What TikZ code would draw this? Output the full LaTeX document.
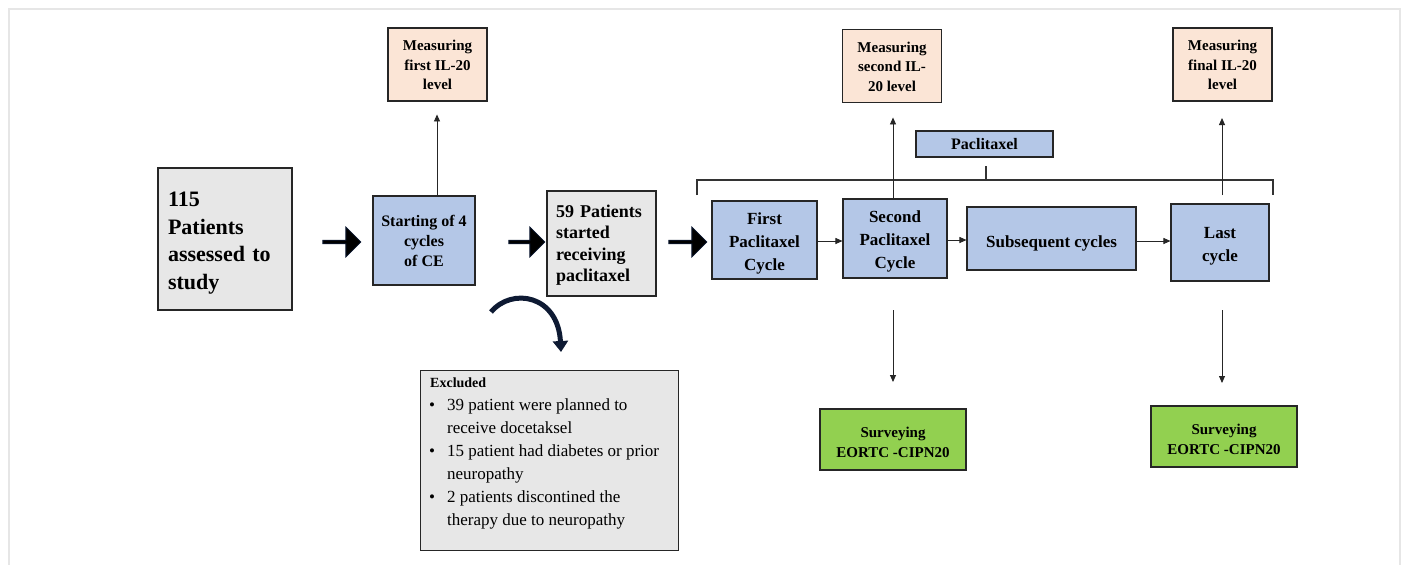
\documentclass[tikz,border=0pt]{standalone}
\usepackage{fontspec}
\setmainfont{Liberation Serif}
\usetikzlibrary{shapes.arrows,arrows.meta}
\definecolor{peach}{HTML}{FBE5D6}
\definecolor{bluebox}{HTML}{B4C7E7}
\definecolor{graybox}{HTML}{E7E7E7}
\definecolor{greenbox}{HTML}{92D050}
\definecolor{frame}{HTML}{E6E6E6}
\definecolor{navy}{HTML}{0E1A33}
\newcommand{\lowr}[1]{\rule{0pt}{#1}}
\tikzset{
  box/.style={draw=black!85, line width=1.1pt, align=center, inner sep=2pt, font=\bfseries},
  measbox/.style={box, fill=peach, minimum width=99pt, minimum height=73pt, font=\bfseries\fontsize{15}{19.5}\selectfont},
  cyclebox/.style={box, fill=bluebox, font=\bfseries\fontsize{17}{23}\selectfont},
  graynode/.style={box, fill=graybox},
  greennode/.style={box, fill=greenbox, minimum width=146pt, minimum height=61pt, font=\bfseries\fontsize{15}{20}\selectfont},
  blockarrow/.style={single arrow, fill=black, draw=navy, line width=0.8pt, minimum height=38pt, minimum width=30pt, single arrow head extend=3pt, inner sep=0pt},
  thinarrow/.style={-{Triangle[length=7pt,width=6pt]}, line width=0.9pt, draw=black!85},
}
\begin{document}
\begin{tikzpicture}[x=1pt,y=-1pt]
\useasboundingbox (0,0) rectangle (1410,565);
\fill[white] (0,0) rectangle (1410,565);
% outer frame
\draw[frame, line width=2pt] (9,565) -- (9,9) -- (1400,9) -- (1400,565);

% measuring boxes
\node[measbox] (m1) at (437.5,64.5) {\lowr{12pt}Measuring\\first IL-20\\level};
\node[measbox] (m2) at (892,66) {\lowr{12pt}Measuring\\second IL-\\20 level};
\node[measbox] (m3) at (1222.5,64.5) {\lowr{12pt}Measuring\\final IL-20\\level};

% main row
\node[graynode, minimum width=134pt, minimum height=142pt, align=left, text width=114pt, font=\bfseries\fontsize{22}{27.5}\selectfont] (p115) at (225,239) {\lowr{23pt}115\\Patients\\assessed to\\study};
\node[box, fill=bluebox, minimum width=102pt, minimum height=89pt, font=\bfseries\fontsize{16}{20}\selectfont] (ce) at (424,240.5) {\lowr{13pt}Starting of 4\\cycles\\of CE};
\node[graynode, minimum width=109pt, minimum height=105pt, align=left, text width=91pt, font=\bfseries\fontsize{18}{21.5}\selectfont] (p59) at (601.5,243.5) {\lowr{16pt}59 Patients\\started\\receiving\\paclitaxel};
\node[cyclebox, minimum width=105pt, minimum height=78pt] (c1) at (764.5,240) {\lowr{18pt}First\\Paclitaxel\\Cycle};
\node[cyclebox, minimum width=104pt, minimum height=79pt] (c2) at (895,238.5) {\lowr{18pt}Second\\Paclitaxel\\Cycle};
\node[cyclebox, minimum width=169pt, minimum height=63pt] (cs) at (1051.5,238.5) {\lowr{21pt}Subsequent cycles};
\node[cyclebox, minimum width=98pt, minimum height=77pt] (cl) at (1220,242.5) {\lowr{18pt}Last\\cycle};

\node[cyclebox, minimum width=137pt, minimum height=26pt, font=\bfseries\fontsize{16}{20}\selectfont] (pac) at (984.5,144) {Paclitaxel};

% bracket
\coordinate (bl) at (697,195);
\coordinate (br) at (1273,195);
\coordinate (bm) at (986,180);
\draw[line width=1.1pt, black!80] (bl) -- (697,180) -- (1273,180) -- (br);
\draw[line width=1.1pt, black!80] (bm) -- ++(0,-14);

% block arrows
\node[blockarrow] (ba1) at (341,242) {};
\node[blockarrow, minimum height=36pt] (ba2) at (526,242) {};
\node[blockarrow] (ba3) at (687,242) {};

% small arrows between cycles
\draw[thinarrow] (c1.east |- 0,241) -- (c2.west |- 0,241);
\draw[thinarrow] (c2.east |- 0,240) -- (cs.west |- 0,240);
\draw[thinarrow] (cs.east |- 0,241) -- (cl.west |- 0,241);

% vertical arrows up
\coordinate (u3) at (1222,195);
\draw[thinarrow] (ce.north -| 437,0) -- ++(0,-81);
\draw[thinarrow] (c2.north -| 893,0) -- ++(0,-81);
\draw[thinarrow] (u3) -- ++(0,-77);

% surveying boxes
\node[greennode] (s1) at (893,439.5) {\lowr{16pt}Surveying\\EORTC -CIPN20};
\node[greennode] (s2) at (1224,436.5) {\lowr{16pt}Surveying\\EORTC -CIPN20};
\coordinate (d1) at (893,310);
\coordinate (d2) at (1222,310);
\draw[thinarrow] (d1) -- (893,382);
\draw[thinarrow] (d2) -- (1222,383);

% excluded box
\node[graynode, minimum width=258pt, minimum height=180pt, anchor=north west, inner sep=0pt] (ex) at (420,370) {};
\node[anchor=north west, align=left, inner sep=0pt, font=\fontsize{14}{18}\selectfont\bfseries] (exhead) at (430,378) {Excluded};
\node[anchor=north west, align=left, inner sep=0pt, font=\fontsize{17}{23}\selectfont] (extext) at (429,394) {%
  \begin{tabular}{@{}l@{\hspace{12pt}}l@{}}
  \textbullet & 39 patient were planned to\\
   & receive docetaksel\\
  \textbullet & 15 patient had diabetes or prior\\
   & neuropathy\\
  \textbullet & 2 patients discontined the\\
   & therapy due to neuropathy
  \end{tabular}};

% curved arrow
\coordinate (ca1) at (491,312);
\coordinate (ca2) at (561,352);
\draw[navy, line width=5pt, -{Triangle[length=11pt,width=15pt]}] (ca1) .. controls (512,287) and (558,295) .. (ca2);
\end{tikzpicture}
\end{document}
